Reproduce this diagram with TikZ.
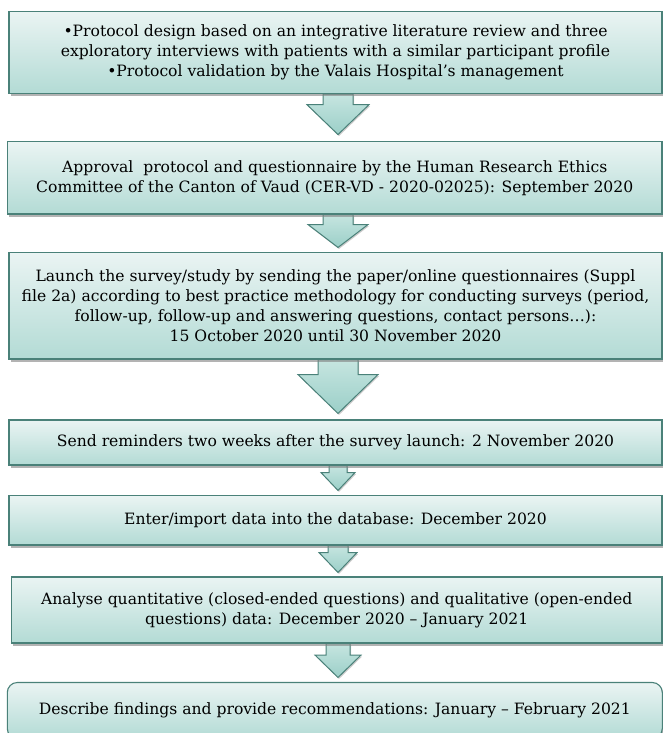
\documentclass[tikz,border=0pt]{standalone}
\usepackage{fontspec}
\setmainfont{DejaVu Serif}
\usetikzlibrary{shadows,calc,backgrounds}
\definecolor{bordc}{HTML}{4A8179}
\definecolor{topc}{HTML}{EAF4F3}
\definecolor{botc}{HTML}{B3DBD5}
\definecolor{arrtop}{HTML}{C6E5E0}
\definecolor{arrbot}{HTML}{9BCFC8}
\tikzset{
  box/.style={draw=bordc, line width=1.1pt, top color=topc, bottom color=botc,
    align=center, inner sep=0pt,
    font=\fontsize{15.6}{19.8}\selectfont,
    drop shadow={shadow xshift=1.5pt, shadow yshift=-2.5pt, fill=black!50, opacity=0.6}},
  flowarr/.style={draw=bordc, line width=1pt, top color=arrtop, bottom color=arrbot,
    drop shadow={shadow xshift=1pt, shadow yshift=-1.5pt, fill=black!40, opacity=0.5}}
}
% #1 from node, #2 to node, #3 shaft length, #4 gap above target, #5 shaft half width, #6 head half width
\newcommand{\flowarrow}[6]{%
  \path[flowarr] let \p1=(#1.south), \p2=(#2.north) in
    (338pt-#5pt,\y1) -- (338pt+#5pt,\y1) -- (338pt+#5pt,\y1-#3pt) -- (338pt+#6pt,\y1-#3pt)
    -- (338pt,\y2+#4pt) -- (338pt-#6pt,\y1-#3pt) -- (338pt-#5pt,\y1-#3pt) -- cycle;}
\begin{document}
\begin{tikzpicture}[x=1pt,y=-1pt]
\useasboundingbox (0,0) rectangle (663,733);
\node[box, minimum width=653pt, minimum height=82pt] (b1) at (335.5,52.6)
  {•Protocol design based on an integrative literature review and three\\
   exploratory interviews with patients with a similar participant profile\\
   •Protocol validation by the Valais Hospital’s management};
\node[box, minimum width=654.5pt, minimum height=72.4pt] (b2) at (334.75,177.8)
  {Approval\ \ protocol and questionnaire by the Human Research Ethics\\
   Committee of the Canton of Vaud (CER-VD - 2020-02025): September 2020};
\node[box, minimum width=653pt, minimum height=106.5pt] (b3) at (335.5,305.75)
  {Launch the survey/study by sending the paper/online questionnaires (Suppl\\
   file 2a) according to best practice methodology for conducting surveys (period,\\
   follow-up, follow-up and answering questions, contact persons…):\\
   15 October 2020 until 30 November 2020};
\node[box, minimum width=653pt, minimum height=45pt] (b4) at (335.5,442.5)
  {Send reminders two weeks after the survey launch: 2 November 2020};
\node[box, minimum width=653pt, minimum height=49.5pt] (b5) at (335.5,520.25)
  {Enter/import data into the database: December 2020};
\node[box, minimum width=650.5pt, minimum height=66pt] (b6) at (336.75,610)
  {Analyse quantitative (closed-ended questions) and qualitative (open-ended\\
   questions) data: December 2020 – January 2021};
\node[box, minimum width=655pt, minimum height=56pt, rounded corners=10pt] (b7) at (334.8,710.5)
  {Describe findings and provide recommendations: January – February 2021};
\begin{scope}[on background layer]
\flowarrow{b1}{b2}{10.5}{6.5}{15}{31}
\flowarrow{b2}{b3}{10}{4.5}{15}{30}
\flowarrow{b3}{b4}{15}{6}{20}{40}
\flowarrow{b4}{b5}{7}{4.5}{9}{17}
\flowarrow{b5}{b6}{7}{4}{10}{19}
\flowarrow{b6}{b7}{11.5}{4.5}{12}{23}
\end{scope}
\end{tikzpicture}
\end{document}
